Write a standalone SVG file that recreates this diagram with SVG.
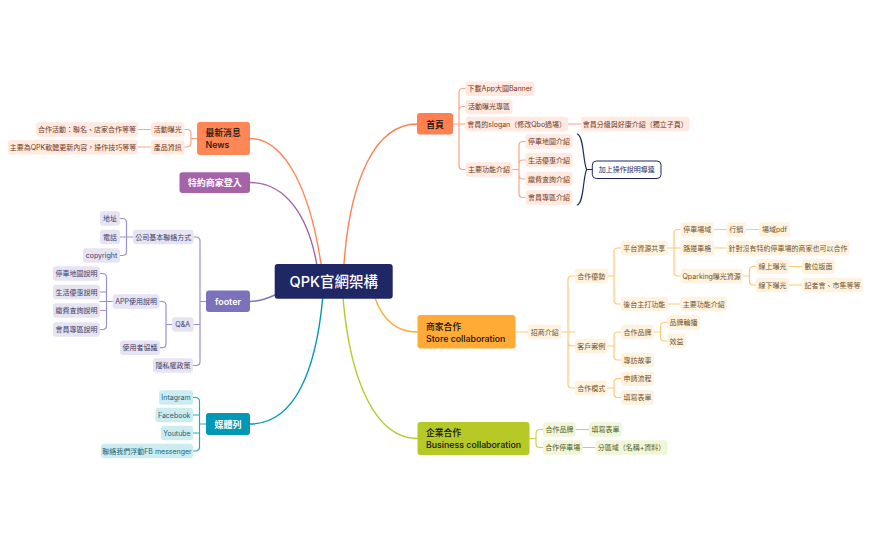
<svg xmlns="http://www.w3.org/2000/svg" width="871" height="539" viewBox="0 0 871 539">
<style>
text{font-family:"Inter","Noto Sans CJK TC",sans-serif;font-size:7px;dominant-baseline:central}
.m{text-anchor:middle}
.b{font-size:8.8px;font-weight:500;fill:#111}
.w{fill:#fff;font-size:9px;font-weight:600}
.c rect{fill:#FFE9E0}.c text{fill:#6E3A26}
.o rect{fill:#FFF2DF}.o text{fill:#6E5330}
.l rect{fill:#F1F5D9}.l text{fill:#4F5A1E}
.p rect{fill:#E6E4F3}.p text{fill:#3D3A66}
.t rect{fill:#CDECF1}.t text{fill:#1D6273}
path{fill:none;stroke-linecap:round}
.lc{stroke:#FFA37F}.lo{stroke:#FFC875}.ll{stroke:#C6D455}.lp{stroke:#9A92D0}.lt{stroke:#2BA9C2}
#connectors path{stroke-width:1.2}
#connectors .r{stroke-width:1.4}
</style>
<rect width="871" height="539" fill="#fff"/>
<g id="connectors">
<path class="r" stroke="#FF7F50" d="M344,264C350,180 375,124 417,124"/>
<path class="r" stroke="#FFAB36" d="M375,298C382,318 395,332 417.500,332"/>
<path class="r" stroke="#B7C926" d="M343,298C350,380 375,438.500 417.500,438.500"/>
<path class="r" stroke="#0098B4" d="M322.700,298C316,370 295,424 250,424"/>
<path class="r" stroke="#7C72BC" d="M275,295C266,299 258,301.500 250,301.500"/>
<path class="r" stroke="#A563A8" d="M316.700,264C308,215 285,182.500 250,182.500"/>
<path class="r" stroke="#FF8655" d="M321,264C310,190 285,138.500 250,138.500"/>
<path class="lc" d="M453,124H465.500M459,124V92.500Q459,88.500 463,88.500H465.500M459,124V110.500Q459,106.500 463,106.500H465.500M459,124V165.500Q459,169.500 463,169.500H465.500M568,124H581M512.500,169.500H519M519,145.500Q519,141.500 523,141.500H525.500M519,164Q519,160 523,160H525.500M519,145.500V193.500M519,175Q519,179 523,179H525.500M519,193.500Q519,197.500 523,197.500H525.500"/>
<path class="lc" d="M197,138.500H191M191,138.500V133.500Q191,129.500 187,129.500H184.500M191,138.500V143Q191,147 187,147H184.500M151,129.500H138M151,147H138"/>
<path class="lo" d="M515.500,332H575M568,332V280Q568,276 572,276H575M568,332V384Q568,388 572,388H575M568,342Q568,346 572,346H575"/>
<path class="lo" d="M608,276H614M614,252Q614,248 618,248H620.700M614,252V300Q614,304 618,304H620.700M668,248H680.500M674,233.500Q674,229.500 678,229.500H680.500M674,233.500V272Q674,276 678,276H680.500M714,229.500H726.500M746,229.500H759M714,248H726.500M743,276H749.500M749.500,270.500Q749.500,266.500 753.500,266.500H756M749.500,270.500V281Q749.500,285 753.500,285H756M789,266.500H802M789,285H802M668,304H680.500"/>
<path class="lo" d="M607.500,346H614M614,336Q614,332 618,332H621M614,336V356Q614,360 618,360H621M654,332H660.500M660.500,326.500Q660.500,322.500 664.500,322.500H667M660.500,326.500V337Q660.500,341 664.500,341H667M607.500,388H614M614,382.700Q614,378.700 618,378.700H621M614,382.700V393.500Q614,397.500 618,397.500H621"/>
<path class="ll" d="M529.500,438.500H536M536,433.500Q536,429.500 540,429.500H543M536,433.500V443.500Q536,447.500 540,447.500H543M576,429.500H589M582.500,447.500H595.500"/>
<path class="lp" d="M206,301.500H200M200,241Q200,237 196,237H193.500M200,241V361.500Q200,365.500 196,365.500H193.500M200,324.500H193.500M133,237H120M126.500,222.500Q126.500,218.500 122.500,218.500H120M126.500,222.500V251.500Q126.500,255.500 122.500,255.500H120"/>
<path class="lp" d="M172,324.500H166M166,305.500Q166,301.500 162,301.500H159.500M166,305.500V343.700Q166,347.700 162,347.700H160M112.700,301.500H100M106.500,277.500Q106.500,273.500 102.500,273.500H100M106.500,277.500V325.500Q106.500,329.500 102.500,329.500H100M106.500,292H100M106.500,310.500H100"/>
<path class="lt" d="M206,424H199.500M199.500,401.500Q199.500,397.500 195.500,397.500H193M199.500,401.500V447Q199.500,451 195.500,451H193M199.500,415H193M199.500,433H193"/>
<path stroke="#1F2765" d="M577.300,134C584,136 583,163 586.700,169.500C583,176 584,203 577.300,205M586.700,169.500H592.300"/>
</g>
<g id="root"><rect x="274.700" y="264" width="118" height="34.700" rx="3" fill="#1F2765"/><text class="m" x="333.700" y="281.500" fill="#fff" style="font-size:14.500px;font-weight:500">QPK官網架構</text></g>
<g id="news"><rect x="197" y="122" width="53" height="33" rx="3" fill="#FF8655"/><text class="b" x="205.500" y="132">最新消息</text><text class="b" x="205.500" y="144.500">News</text></g>
<g id="login"><rect x="179.500" y="172.300" width="70.500" height="20.700" rx="3" fill="#A563A8"/><text class="m w" x="214.700" y="182.700">特約商家登入</text></g>
<g id="footer"><rect x="206" y="290.500" width="44" height="21.500" rx="3" fill="#7C72BC"/><text class="m w" x="228" y="301.500">footer</text></g>
<g id="media"><rect x="206" y="413" width="44" height="22" rx="3" fill="#0098B4"/><text class="m w" x="228" y="424">媒體列</text></g>
<g id="home"><rect x="417" y="113" width="36" height="21.500" rx="3" fill="#FF7F50"/><text class="m b" x="435" y="124">首頁</text></g>
<g id="store"><rect x="417.500" y="315" width="98" height="33.500" rx="3" fill="#FFAB36"/><text class="b" x="426" y="326">商家合作</text><text class="b" x="426" y="338">Store collaboration</text></g>
<g id="business"><rect x="417.500" y="422" width="112" height="33" rx="3" fill="#B7C926"/><text class="b" x="426" y="432.500">企業合作</text><text class="b" x="426" y="444.500">Business collaboration</text></g>
<g id="note"><rect x="592.300" y="161" width="68.700" height="17.500" rx="4" fill="#fff" stroke="#1F2765"/><text class="m" x="626.700" y="169.700" fill="#1F2765">加上操作說明導連</text></g>
<g class="c">
<g id="n1"><rect x="151" y="122.300" width="33.500" height="14.500" rx="3"/><text class="m" x="167.700" y="129.500">活動曝光</text></g>
<g id="n2"><rect x="36" y="122.300" width="102" height="14.500" rx="3"/><text class="m" x="87" y="129.500">合作活動：聯名、店家合作等等</text></g>
<g id="n3"><rect x="151" y="140" width="33.500" height="14.500" rx="3"/><text class="m" x="167.700" y="147">產品資訊</text></g>
<g id="n4"><rect x="8" y="140" width="130" height="14.500" rx="3"/><text class="m" x="73" y="147">主要為QPK軟體更新內容，操作技巧等等</text></g>
<g id="n5"><rect x="465.500" y="81.500" width="69" height="14.500" rx="3"/><text class="m" x="500" y="88.500">下載App大圖Banner</text></g>
<g id="n6"><rect x="465.500" y="99.500" width="47" height="14.500" rx="3"/><text class="m" x="489" y="106.500">活動曝光專區</text></g>
<g id="n7"><rect x="465.500" y="116.800" width="102.500" height="14.500" rx="3"/><text class="m" x="516.700" y="124">會員的slogan（修改Qbo過場）</text></g>
<g id="n8"><rect x="581" y="116.800" width="108.500" height="14.500" rx="3"/><text class="m" x="635.200" y="124">會員分級與好康介紹（獨立子頁）</text></g>
<g id="n9"><rect x="465.500" y="162.300" width="47" height="14.500" rx="3"/><text class="m" x="489" y="169.500">主要功能介紹</text></g>
<g id="n10"><rect x="525.500" y="134.300" width="47" height="14.500" rx="3"/><text class="m" x="549" y="141.500">停車地圖介紹</text></g>
<g id="n11"><rect x="525.500" y="152.800" width="47" height="14.500" rx="3"/><text class="m" x="549" y="160">生活優惠介紹</text></g>
<g id="n12"><rect x="525.500" y="171.800" width="47" height="14.500" rx="3"/><text class="m" x="549" y="179">繳費查詢介紹</text></g>
<g id="n13"><rect x="525.500" y="190.300" width="47" height="14.500" rx="3"/><text class="m" x="549" y="197.500">會員專區介紹</text></g>
</g>
<g class="o">
<g id="s1"><rect x="528" y="324.800" width="33.500" height="14.500" rx="3"/><text class="m" x="544.700" y="332">招商介紹</text></g>
<g id="s2"><rect x="574.700" y="268.800" width="33.300" height="14.500" rx="3"/><text class="m" x="591.300" y="276">合作優勢</text></g>
<g id="s3"><rect x="620.700" y="240.800" width="47.300" height="14.500" rx="3"/><text class="m" x="644.300" y="248">平台資源共享</text></g>
<g id="s4"><rect x="680.500" y="222.300" width="33.500" height="14.500" rx="3"/><text class="m" x="697.200" y="229.500">停車場域</text></g>
<g id="s5"><rect x="726.500" y="222.300" width="19.500" height="14.500" rx="3"/><text class="m" x="736.200" y="229.500">行銷</text></g>
<g id="s6"><rect x="759" y="222.300" width="31" height="14.500" rx="3"/><text class="m" x="774.500" y="229.500">場域pdf</text></g>
<g id="s7"><rect x="680.500" y="240.800" width="33.500" height="14.500" rx="3"/><text class="m" x="697.200" y="248">路邊車格</text></g>
<g id="s8"><rect x="726.500" y="240.800" width="123" height="14.500" rx="3"/><text class="m" x="788" y="248">針對沒有特約停車場的商家也可以合作</text></g>
<g id="s9"><rect x="680.500" y="268.800" width="62.500" height="14.500" rx="3"/><text class="m" x="711.700" y="276">Qparking曝光資源</text></g>
<g id="s10"><rect x="756" y="259.300" width="33" height="14.500" rx="3"/><text class="m" x="772.500" y="266.500">線上曝光</text></g>
<g id="s11"><rect x="802" y="259.300" width="33" height="14.500" rx="3"/><text class="m" x="818.500" y="266.500">數位版面</text></g>
<g id="s12"><rect x="756" y="277.800" width="33" height="14.500" rx="3"/><text class="m" x="772.500" y="285">線下曝光</text></g>
<g id="s13"><rect x="802" y="277.800" width="61" height="14.500" rx="3"/><text class="m" x="832.500" y="285">記者會、市集等等</text></g>
<g id="s14"><rect x="620.700" y="296.800" width="47.300" height="14.500" rx="3"/><text class="m" x="644.300" y="304">後台主打功能</text></g>
<g id="s15"><rect x="680.500" y="296.800" width="46.500" height="14.500" rx="3"/><text class="m" x="703.700" y="304">主要功能介紹</text></g>
<g id="s16"><rect x="575" y="338.800" width="32.500" height="14.500" rx="3"/><text class="m" x="591.200" y="346">客戶案例</text></g>
<g id="s17"><rect x="621" y="324.800" width="33" height="14.500" rx="3"/><text class="m" x="637.500" y="332">合作品牌</text></g>
<g id="s18"><rect x="667" y="315.300" width="33" height="14.500" rx="3"/><text class="m" x="683.500" y="322.500">品牌輪播</text></g>
<g id="s19"><rect x="667" y="333.800" width="19" height="14.500" rx="3"/><text class="m" x="676.500" y="341">效益</text></g>
<g id="s20"><rect x="621" y="352.800" width="33" height="14.500" rx="3"/><text class="m" x="637.500" y="360">專訪故事</text></g>
<g id="s21"><rect x="575" y="380.800" width="32.500" height="14.500" rx="3"/><text class="m" x="591.200" y="388">合作模式</text></g>
<g id="s22"><rect x="621" y="371.500" width="33" height="14.500" rx="3"/><text class="m" x="637.500" y="378.700">申請流程</text></g>
<g id="s23"><rect x="621" y="390.300" width="33" height="14.500" rx="3"/><text class="m" x="637.500" y="397.500">填寫表單</text></g>
</g>
<g class="l">
<g id="b1"><rect x="543" y="422.300" width="33" height="14.500" rx="3"/><text class="m" x="559.500" y="429.500">合作品牌</text></g>
<g id="b2"><rect x="589" y="422.300" width="33" height="14.500" rx="3"/><text class="m" x="605.500" y="429.500">填寫表單</text></g>
<g id="b3"><rect x="543" y="440.300" width="39.500" height="14.500" rx="3"/><text class="m" x="562.700" y="447.500">合作停車場</text></g>
<g id="b4"><rect x="595.500" y="440.300" width="72" height="14.500" rx="3"/><text class="m" x="631.500" y="447.500">分區域（名稱+資料）</text></g>
</g>
<g class="p">
<g id="f1"><rect x="100" y="211.300" width="20" height="14.500" rx="3"/><text class="m" x="110" y="218.500">地址</text></g>
<g id="f2"><rect x="100" y="229.800" width="20" height="14.500" rx="3"/><text class="m" x="110" y="237">電話</text></g>
<g id="f3"><rect x="83" y="248.300" width="37" height="14.500" rx="3"/><text class="m" x="101.500" y="255.500">copyright</text></g>
<g id="f4"><rect x="133" y="229.800" width="60.500" height="14.500" rx="3"/><text class="m" x="163.200" y="237">公司基本聯絡方式</text></g>
<g id="f5"><rect x="53" y="266.300" width="47" height="14.500" rx="3"/><text class="m" x="76.500" y="273.500">停車地圖說明</text></g>
<g id="f6"><rect x="53" y="284.800" width="47" height="14.500" rx="3"/><text class="m" x="76.500" y="292">生活優惠說明</text></g>
<g id="f7"><rect x="53" y="303.300" width="47" height="14.500" rx="3"/><text class="m" x="76.500" y="310.500">繳費查詢說明</text></g>
<g id="f8"><rect x="53" y="322.300" width="47" height="14.500" rx="3"/><text class="m" x="76.500" y="329.500">會員專區說明</text></g>
<g id="f9"><rect x="112.700" y="294.300" width="46.800" height="14.500" rx="3"/><text class="m" x="136.100" y="301.500">APP使用說明</text></g>
<g id="f10"><rect x="172" y="317.300" width="21.500" height="14.500" rx="3"/><text class="m" x="182.700" y="324.500">Q&amp;A</text></g>
<g id="f11"><rect x="120" y="340.500" width="40" height="14.500" rx="3"/><text class="m" x="140" y="347.700">使用者協議</text></g>
<g id="f12"><rect x="153" y="358.300" width="40" height="14.500" rx="3"/><text class="m" x="173" y="365.500">隱私權政策</text></g>
</g>
<g class="t">
<g id="m1"><rect x="159" y="390.300" width="34" height="14.500" rx="3"/><text class="m" x="176" y="397.500">Intagram</text></g>
<g id="m2"><rect x="155.500" y="407.800" width="37.500" height="14.500" rx="3"/><text class="m" x="174.200" y="415">Facebook</text></g>
<g id="m3"><rect x="161" y="425.800" width="32" height="14.500" rx="3"/><text class="m" x="177" y="433">Youtube</text></g>
<g id="m4"><rect x="101" y="443.800" width="92" height="14.500" rx="3"/><text class="m" x="147" y="451">聯絡我們浮動FB messenger</text></g>
</g>
</svg>
